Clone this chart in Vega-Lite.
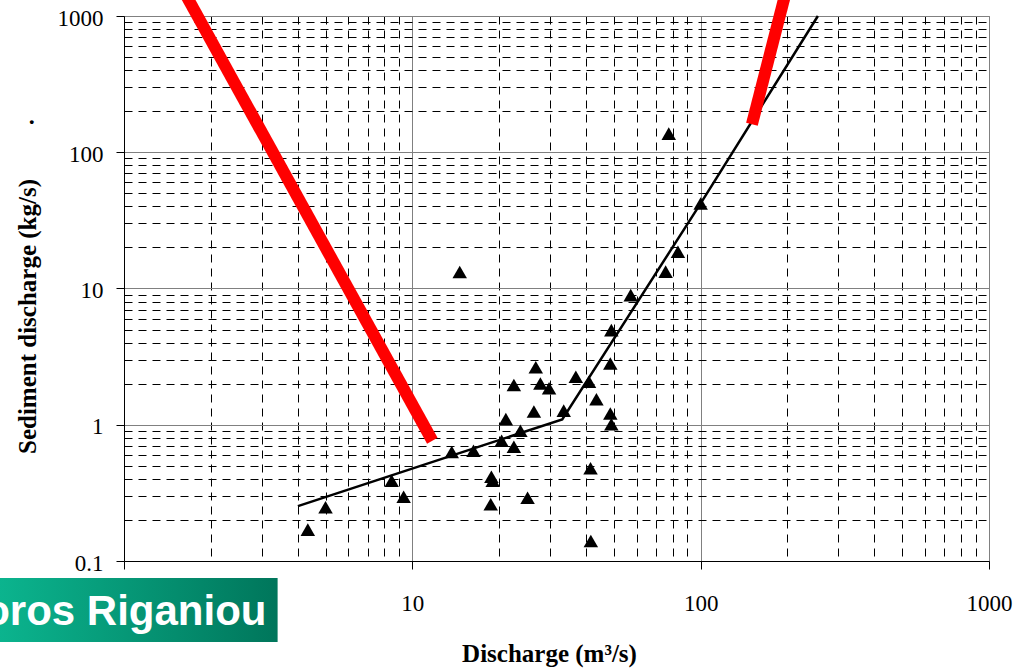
{
  "$schema": "https://vega.github.io/schema/vega-lite/v6.json",
  "width": 865,
  "height": 545,
  "autosize": {"type": "none"},
  "padding": {"left": 124, "top": 16, "right": 28, "bottom": 108},
  "background": "white",
  "config": {
    "view": {"stroke": "#808080", "strokeWidth": 1},
    "axis": {
      "labelFont": "Liberation Serif",
      "labelFontSize": 23,
      "labelColor": "black",
      "titleFont": "Liberation Serif",
      "titleFontSize": 25,
      "titleFontWeight": "bold",
      "titleColor": "black",
      "domainColor": "black",
      "domainWidth": 1,
      "tickColor": "black",
      "tickSize": 8,
      "labelOverlap": false,
      "labelFlush": false,
      "gridWidth": 1
    }
  },
  "datasets": {
    "obs": [
      {"q": 4.34, "s": 0.170}, {"q": 5.00, "s": 0.248}, {"q": 8.48, "s": 0.388}, {"q": 9.33, "s": 0.296},
      {"q": 14.6, "s": 13.2}, {"q": 13.7, "s": 0.630}, {"q": 16.3, "s": 0.645}, {"q": 18.8, "s": 0.415},
      {"q": 19.0, "s": 0.388}, {"q": 18.7, "s": 0.261}, {"q": 20.4, "s": 0.763}, {"q": 21.1, "s": 1.10},
      {"q": 22.5, "s": 0.690}, {"q": 22.5, "s": 1.96}, {"q": 23.7, "s": 0.904}, {"q": 25.1, "s": 0.291},
      {"q": 26.4, "s": 1.25}, {"q": 26.8, "s": 2.64}, {"q": 27.8, "s": 2.01}, {"q": 29.8, "s": 1.85},
      {"q": 33.5, "s": 1.27}, {"q": 36.9, "s": 2.25}, {"q": 41.0, "s": 2.07}, {"q": 41.5, "s": 0.479},
      {"q": 41.6, "s": 0.140}, {"q": 43.5, "s": 1.54}, {"q": 48.6, "s": 2.82}, {"q": 48.6, "s": 1.21},
      {"q": 49.0, "s": 1.01}, {"q": 49.0, "s": 4.95}, {"q": 57.2, "s": 8.94}, {"q": 75.6, "s": 13.3},
      {"q": 77.5, "s": 137}, {"q": 83.4, "s": 18.6}, {"q": 100, "s": 42.1}
    ],
    "fit": [
      {"q": 4.01, "s": 0.253}, {"q": 33.1, "s": 1.096}, {"q": 100, "s": 42.1}, {"q": 255, "s": 1000}
    ],
    "marks": [
      {"id": "a", "q": 1.57, "s": 1683}, {"id": "a", "q": 11.73, "s": 0.763},
      {"id": "b", "q": 150.6, "s": 160.7}, {"id": "b", "q": 200.2, "s": 1683}
    ],
    "banner": [
      {"q": 0.37, "q2": 3.41, "s": 0.0750, "s2": 0.0254}
    ],
    "bannerText": [
      {"q": 3.12, "s": 0.0339, "label": "oros Riganiou"}
    ],
    "dot": [
      {"q": 0.479, "s": 160.8, "label": "."}
    ]
  },
  "encoding": {
    "x": {
      "field": "q", "type": "quantitative",
      "scale": {"type": "log", "domain": [1, 1000], "nice": false, "zero": false},
      "axis": {
        "title": "Discharge (m³/s)",
        "values": [1,2,3,4,5,6,7,8,9,10,20,30,40,50,60,70,80,90,100,200,300,400,500,600,700,800,900,1000],
        "labelExpr": "indexof([10,100,1000], datum.value) >= 0 ? format(datum.value, '~g') : ''",
        "labelPadding": 23,
        "grid": true,
        "gridColor": {"condition": {"test": "indexof([1,10,100,1000], datum.value) >= 0", "value": "#808080"}, "value": "#000000"},
        "gridDash": {"condition": {"test": "indexof([1,10,100,1000], datum.value) >= 0", "value": []}, "value": [8, 6]},
        "tickOpacity": {"condition": {"test": "indexof([1,10,100,1000], datum.value) >= 0", "value": 1}, "value": 0},
        "titleX": 425,
        "titleY": 100,
        "titleBaseline": "alphabetic",
        "titleAnchor": "middle"
      }
    },
    "y": {
      "field": "s", "type": "quantitative",
      "scale": {"type": "log", "domain": [0.1, 1000], "nice": false, "zero": false},
      "axis": {
        "title": "Sediment discharge (kg/s)",
        "values": [0.1,0.2,0.3,0.4,0.5,0.6,0.7,0.8,0.9,1,2,3,4,5,6,7,8,9,10,20,30,40,50,60,70,80,90,100,200,300,400,500,600,700,800,900,1000],
        "labelExpr": "indexof([0.1,1,10,100,1000], datum.value) >= 0 ? format(datum.value, '~g') : ''",
        "labelPadding": 13,
        "labelOffset": 2,
        "grid": true,
        "gridColor": {"condition": {"test": "indexof([0.1,1,10,100,1000], datum.value) >= 0", "value": "#808080"}, "value": "#000000"},
        "gridDash": {"condition": {"test": "indexof([0.1,1,10,100,1000], datum.value) >= 0", "value": []}, "value": [8, 6]},
        "tickOpacity": {"condition": {"test": "indexof([0.1,1,10,100,1000], datum.value) >= 0", "value": 1}, "value": 0},
        "titleX": -89,
        "titleY": 300,
        "titleBaseline": "alphabetic",
        "titleAnchor": "middle"
      }
    }
  },
  "layer": [
    {
      "data": {"name": "obs"},
      "mark": {"type": "point", "shape": "triangle-up", "filled": true, "color": "black", "opacity": 1, "size": 210}
    },
    {
      "data": {"name": "fit"},
      "mark": {"type": "line", "color": "black", "strokeWidth": 2.5},
      "encoding": {"order": {"field": "q", "type": "quantitative"}}
    },
    {
      "data": {"name": "marks"},
      "mark": {"type": "line", "color": "#ff0000", "strokeWidth": 12, "strokeCap": "butt"},
      "encoding": {"detail": {"field": "id"}, "order": {"field": "q", "type": "quantitative"}}
    },
    {
      "data": {"name": "banner"},
      "mark": {
        "type": "rect",
        "color": {"gradient": "linear", "x1": 0, "x2": 1, "y1": 0, "y2": 0, "stops": [{"offset": 0, "color": "#0bb48e"}, {"offset": 1, "color": "#00765b"}]}
      },
      "encoding": {
        "x2": {"field": "q2"},
        "y2": {"field": "s2"}
      }
    },
    {
      "data": {"name": "bannerText"},
      "mark": {"type": "text", "font": "Liberation Sans", "fontWeight": "bold", "fontSize": 42, "color": "white", "align": "right", "baseline": "alphabetic"},
      "encoding": {"text": {"field": "label"}}
    },
    {
      "data": {"name": "dot"},
      "mark": {"type": "text", "font": "Liberation Serif", "fontWeight": "bold", "fontSize": 24, "color": "black", "align": "center", "baseline": "alphabetic"},
      "encoding": {"text": {"field": "label"}}
    }
  ]
}
